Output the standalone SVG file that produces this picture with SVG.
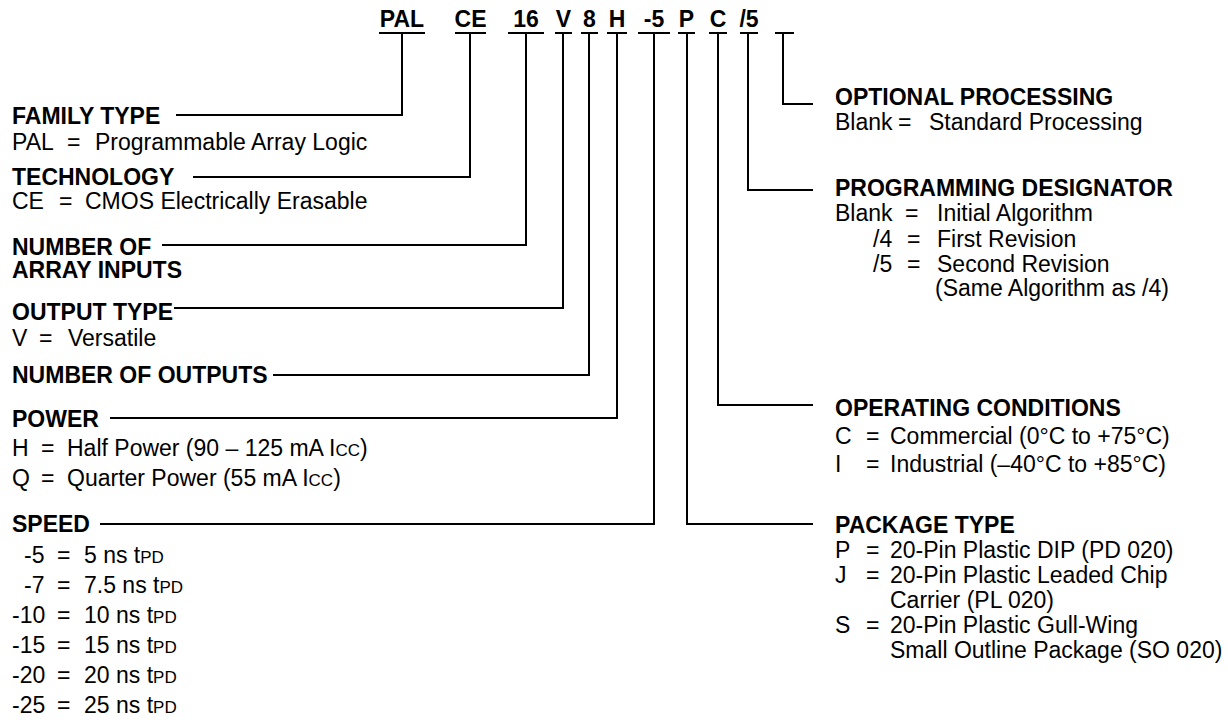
<svg xmlns="http://www.w3.org/2000/svg" width="1228" height="722" viewBox="0 0 1228 722">
<style>
text{font-family:"Liberation Sans",Arial,Helvetica,sans-serif;font-size:23px;fill:#000}
.b{font-weight:bold}
.m{text-anchor:middle}
.s{font-size:17px}
.c{fill:none;stroke:#000;stroke-width:2}
</style>
<rect width="1228" height="722" fill="#fff"/>
<g id="code">
<text class="b m" x="402" y="27">PAL</text>
<text class="b m" x="470.5" y="27">CE</text>
<text class="b m" x="526" y="27">16</text>
<text class="b m" x="563.5" y="27">V</text>
<text class="b m" x="589.5" y="27">8</text>
<text class="b m" x="617" y="27">H</text>
<text class="b m" x="654" y="27">-5</text>
<text class="b m" x="686.5" y="27">P</text>
<text class="b m" x="718" y="27">C</text>
<text class="b m" x="749" y="27">/5</text>
</g>
<g id="connectors" class="c">
<path d="M379,33H425M402,33V115H176"/>
<path d="M455,33H486M470,33V177H193"/>
<path d="M508,33H544M526,33V245H162"/>
<path d="M555,33H572M563,33V308H174"/>
<path d="M581,33H598M589,33V375H273"/>
<path d="M607,33H627M617,33V418H110"/>
<path d="M638,33H670M654,33V524H100"/>
<path d="M678,33H695M687,33V524H813"/>
<path d="M709,33H727M718,33V405H813"/>
<path d="M740,33H758M748,33V190H813"/>
<path d="M775,33H794M783,33V104H813"/>
</g>
<g id="family-type">
<text class="b" x="12" y="124">FAMILY TYPE</text>
<text y="150"><tspan x="12">PAL</tspan><tspan x="67">=</tspan><tspan x="95">Programmable Array Logic</tspan></text>
</g>
<g id="technology">
<text class="b" x="12" y="185">TECHNOLOGY</text>
<text y="209"><tspan x="12">CE</tspan><tspan x="59">=</tspan><tspan x="85">CMOS Electrically Erasable</tspan></text>
</g>
<g id="array-inputs">
<text class="b" x="12" y="255">NUMBER OF</text>
<text class="b" x="12" y="278">ARRAY INPUTS</text>
</g>
<g id="output-type">
<text class="b" x="12" y="320">OUTPUT TYPE</text>
<text y="346"><tspan x="12">V</tspan><tspan x="39">=</tspan><tspan x="68">Versatile</tspan></text>
</g>
<g id="number-of-outputs">
<text class="b" x="12" y="383">NUMBER OF OUTPUTS</text>
</g>
<g id="power">
<text class="b" x="12" y="427">POWER</text>
<text y="456"><tspan x="12">H</tspan><tspan x="41">=</tspan><tspan x="67">Half Power (90 – 125 mA I</tspan><tspan class="s">CC</tspan><tspan>)</tspan></text>
<text y="486"><tspan x="12">Q</tspan><tspan x="41">=</tspan><tspan x="67">Quarter Power (55 mA I</tspan><tspan class="s">CC</tspan><tspan>)</tspan></text>
</g>
<g id="speed">
<text class="b" x="12" y="532">SPEED</text>
<text y="563"><tspan x="24">-5</tspan><tspan x="57">=</tspan><tspan x="84">5 ns t</tspan><tspan class="s">PD</tspan></text>
<text y="593"><tspan x="24">-7</tspan><tspan x="57">=</tspan><tspan x="84">7.5 ns t</tspan><tspan class="s">PD</tspan></text>
<text y="623"><tspan x="12">-10</tspan><tspan x="57">=</tspan><tspan x="84">10 ns t</tspan><tspan class="s">PD</tspan></text>
<text y="653"><tspan x="12">-15</tspan><tspan x="57">=</tspan><tspan x="84">15 ns t</tspan><tspan class="s">PD</tspan></text>
<text y="683"><tspan x="12">-20</tspan><tspan x="57">=</tspan><tspan x="84">20 ns t</tspan><tspan class="s">PD</tspan></text>
<text y="713"><tspan x="12">-25</tspan><tspan x="57">=</tspan><tspan x="84">25 ns t</tspan><tspan class="s">PD</tspan></text>
</g>
<g id="optional-processing">
<text class="b" x="835" y="105">OPTIONAL PROCESSING</text>
<text y="130"><tspan x="835">Blank</tspan><tspan x="898">=</tspan><tspan x="929">Standard Processing</tspan></text>
</g>
<g id="programming-designator">
<text class="b" x="835" y="196">PROGRAMMING DESIGNATOR</text>
<text y="221"><tspan x="835">Blank</tspan><tspan x="905">=</tspan><tspan x="937">Initial Algorithm</tspan></text>
<text y="247"><tspan x="873">/4</tspan><tspan x="907">=</tspan><tspan x="937">First Revision</tspan></text>
<text y="272"><tspan x="873">/5</tspan><tspan x="907">=</tspan><tspan x="937">Second Revision</tspan></text>
<text x="935" y="296">(Same Algorithm as /4)</text>
</g>
<g id="operating-conditions">
<text class="b" x="835" y="416">OPERATING CONDITIONS</text>
<text y="444"><tspan x="835">C</tspan><tspan x="866">=</tspan><tspan x="890">Commercial (0°C to +75°C)</tspan></text>
<text y="472"><tspan x="835">I</tspan><tspan x="866">=</tspan><tspan x="890">Industrial (–40°C to +85°C)</tspan></text>
</g>
<g id="package-type">
<text class="b" x="835" y="533">PACKAGE TYPE</text>
<text y="558"><tspan x="835">P</tspan><tspan x="866">=</tspan><tspan x="890">20-Pin Plastic DIP (PD 020)</tspan></text>
<text y="583"><tspan x="835">J</tspan><tspan x="866">=</tspan><tspan x="890">20-Pin Plastic Leaded Chip</tspan></text>
<text x="890" y="608">Carrier (PL 020)</text>
<text y="633"><tspan x="835">S</tspan><tspan x="866">=</tspan><tspan x="890">20-Pin Plastic Gull-Wing</tspan></text>
<text x="890" y="658">Small Outline Package (SO 020)</text>
</g>
</svg>
